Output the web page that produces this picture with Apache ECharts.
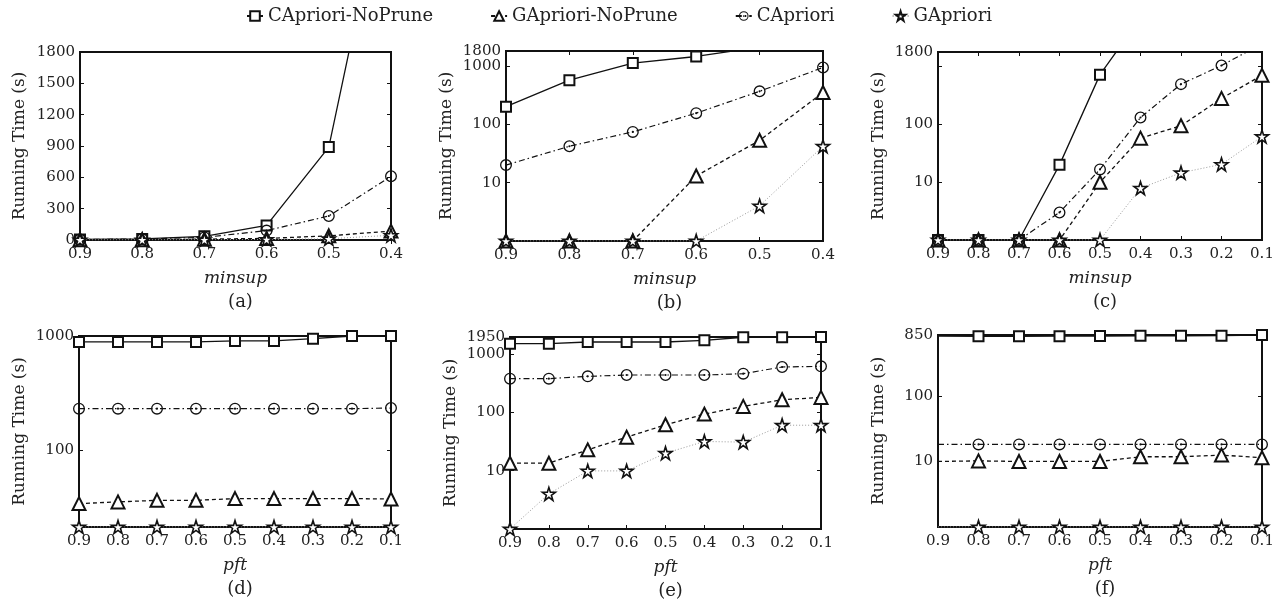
<!DOCTYPE html>
<html>
<head>
<meta charset="utf-8">
<script src="https://cdn.jsdelivr.net/npm/echarts@6/dist/echarts.min.js"></script>
<style>html,body{margin:0;padding:0;background:#fff}#c{width:1283px;height:608px}</style>
</head>
<body>
<div id="c"></div>
<script>
// ---- data ----
const seriesNames = ['CApriori-NoPrune', 'GApriori-NoPrune', 'CApriori', 'GApriori'];
const xMinsupShort = ['0.9', '0.8', '0.7', '0.6', '0.5', '0.4'];
const xMinsupLong = ['0.9', '0.8', '0.7', '0.6', '0.5', '0.4', '0.3', '0.2', '0.1'];
const xPft = ['0.9', '0.8', '0.7', '0.6', '0.5', '0.4', '0.3', '0.2', '0.1'];

const a_CNP = [5, 10, 35, 140, 890, 3700];
const a_GNP = [2, 3, 8, 15, 40, 85];
const a_CA = [5, 10, 25, 90, 230, 610];
const a_GA = [1, 2, 3, 5, 12, 45];

const b_CNP = [200, 570, 1120, 1450, 2100, 2600];
const b_GNP = [1, 1, 1, 13, 53, 350];
const b_CA = [20, 42, 74, 155, 367, 940];
const b_GA = [1, 1, 1, 1, 4, 42];

const c_CNP = [1, 1, 1, 20, 730, 7000, null, null, null];
const c_GNP = [1, 1, 1, 1, 10, 58, 95, 283, 710];
const c_CA = [1, 1, 1, 3, 16.7, 132, 500, 1050, 2500];
const c_GA = [1, 1, 1, 1, 1, 7.9, 14.6, 20.4, 62];

const d_CNP = [887, 887, 887, 887, 905, 905, 948, 1000, 1000];
const d_GNP = [33.7, 34.9, 36, 36, 37.3, 37.3, 37.3, 37.3, 37];
const d_CA = [230, 230, 230, 230, 230, 230, 230, 230, 233];
const d_GA = [21, 21, 21, 21, 21, 21, 21, 21, 21];

const e_CNP = [1500, 1500, 1600, 1600, 1600, 1710, 1930, 1930, 1950];
const e_GNP = [13.4, 13.4, 22.7, 37.5, 61, 93, 126, 164, 180];
const e_CA = [377, 377, 413, 435, 435, 435, 459, 597, 613];
const e_GA = [1, 4, 9.9, 9.9, 19.9, 31.6, 30.8, 60, 60];

const f_CNP = [820, 810, 810, 815, 820, 825, 825, 830, 850];
const f_GNP = [10, 10.2, 10, 10, 10, 11.8, 11.8, 12.5, 11.4];
const f_CA = [18.2, 18.2, 18.2, 18.2, 18.2, 18.2, 18.2, 18.2, 18.2];
const f_GA = [1, 1, 1, 1, 1, 1, 1, 1, 1];

// y tick labels shown
const a_yTicks = [0, 300, 600, 900, 1200, 1500, 1800];
const b_yTicks = [10, 100, 1000, 1800];
const c_yTicks = [10, 100, 1800];
const d_yTicks = [100, 1000];
const e_yTicks = [10, 100, 1000, 1950];
const f_yTicks = [10, 100, 850];

// ---- layout/style ----
const FONT = 'DejaVu Serif';
const panels = [
  {id:'(a)', x: xMinsupShort, xname:'minsup', data:[a_CNP,a_GNP,a_CA,a_GA], yType:'value', min:0, max:1800, ticks:a_yTicks,
   grid:{left:80, top:52, width:311, height:188}},
  {id:'(b)', x: xMinsupShort, xname:'minsup', data:[b_CNP,b_GNP,b_CA,b_GA], yType:'log', min:1, max:1800, ticks:b_yTicks,
   grid:{left:506, top:51, width:317, height:190}},
  {id:'(c)', x: xMinsupLong, xname:'minsup', data:[c_CNP,c_GNP,c_CA,c_GA], yType:'log', min:1, max:1800, ticks:c_yTicks,
   grid:{left:938, top:52, width:324, height:188}},
  {id:'(d)', x: xPft, xname:'pft', data:[d_CNP,d_GNP,d_CA,d_GA], yType:'log', min:21, max:1000, ticks:d_yTicks,
   grid:{left:79, top:336, width:312, height:191}},
  {id:'(e)', x: xPft, xname:'pft', data:[e_CNP,e_GNP,e_CA,e_GA], yType:'log', min:1, max:1950, ticks:e_yTicks,
   grid:{left:510, top:337, width:311, height:192}},
  {id:'(f)', x: xPft, xname:'pft', data:[f_CNP,f_GNP,f_CA,f_GA], yType:'log', min:1, max:850, ticks:f_yTicks, hideFirst:true,
   grid:{left:938, top:335, width:324, height:192}}
];

const STAR = 'path://M50,2 L61,36 L97,36 L68,57 L79,92 L50,71 L21,92 L32,57 L3,36 L39,36 Z';
const RING = 'path://M0,-10 A10,10 0 1,1 0,10 A10,10 0 1,1 0,-10 Z M0,-7.8 A7.8,7.8 0 1,0 0,7.8 A7.8,7.8 0 1,0 0,-7.8 Z M0,-1.8 A1.8,1.8 0 1,1 0,1.8 A1.8,1.8 0 1,1 0,-1.8 Z';
const styles = [
  {symbol:'emptyRect', size:10, line:{color:'#111', width:1.3, type:'solid'}, item:{color:'#111', borderWidth:1.4}},
  {symbol:'emptyTriangle', size:13, line:{color:'#111', width:1.3, type:[4,3]}, item:{color:'#111', borderWidth:1.4}},
  {symbol:RING, size:12, line:{color:'#111', width:1.2, type:[6,3,1.5,3]}, item:{color:'#111', borderWidth:0}},
  {symbol:STAR, size:13, line:{color:'#999', width:1, type:[1,2]}, item:{color:'#fff', borderColor:'#111', borderWidth:1.6}}
];

const grids = [], xAxes = [], yAxes = [], series = [], titles = [];
panels.forEach((p, i) => {
  grids.push(Object.assign({show:true, borderColor:'#111', borderWidth:2, backgroundColor:'#fff'}, p.grid));
  const cx = p.grid.left + p.grid.width / 2;
  titles.push({text:p.id, left:cx, top:p.grid.top + p.grid.height + 48, textAlign:'center',
    textStyle:{fontFamily:FONT, fontSize:18, fontWeight:'normal', color:'#222'}});
  xAxes.push({gridIndex:i, type:'category', data:p.x, boundaryGap:false,
    axisLine:{show:false}, axisTick:{show:true, inside:true, length:4, lineStyle:{color:'#111'}},
    axisLabel:{fontFamily:FONT, fontSize:15, color:'#222', margin:7, interval:0},
    name:p.xname, nameLocation:'middle', nameGap:30,
    nameTextStyle:{fontFamily:FONT, fontStyle:'italic', fontSize:17, color:'#222'}});
  xAxes.push({gridIndex:i, type:'category', data:p.x, boundaryGap:false, position:'top',
    axisLine:{show:false}, axisTick:{show:true, inside:true, length:4, lineStyle:{color:'#111'}},
    axisLabel:{show:false}});
  const ticks = p.ticks;
  const yBase = {gridIndex:i, type:p.yType, min:p.min, max:p.max, splitLine:{show:false},
    axisLine:{show:false}, axisTick:{show:true, inside:true, length:4, lineStyle:{color:'#111'}}};
  if (p.yType === 'value') yBase.interval = 300;
  yAxes.push(Object.assign({}, yBase, {
    axisLabel:{fontFamily:FONT, fontSize:15, color:'#222', margin:5, showMaxLabel:true, showMinLabel:true,
      formatter:(v) => { for (const t of ticks) { if (Math.abs(v - t) / Math.max(t,1) < 0.01) return String(t); } return ''; }},
    name:'Running Time (s)', nameLocation:'middle', nameGap: p.yType === 'value' ? 52 : 51,
    nameTextStyle:{fontFamily:FONT, fontSize:17, color:'#222'}}));
  yAxes.push(Object.assign({}, yBase, {position:'right', axisLabel:{show:false}}));
  p.data.forEach((arr, k) => {
    const st = styles[k];
    const d = arr.map((v, j) => (p.hideFirst && j === 0) ? {value:v, symbol:'none'} : v);
    series.push({name:seriesNames[k], type:'line', xAxisIndex:i*2, yAxisIndex:i*2, data:d,
      symbol:st.symbol, symbolSize:st.size, showAllSymbol:true, clip:true,
      lineStyle:st.line, itemStyle:st.item, z: 2 + k, animation:false});
  });
});

const chart = echarts.init(document.getElementById('c'), null, {renderer:'canvas'});
chart.setOption({
  animation:false,
  backgroundColor:'#fff',
  title: titles,
  legend:{data:seriesNames, top:2, left:241, itemGap:57, itemWidth:16, itemHeight:12,
    textStyle:{fontFamily:FONT, fontSize:18, color:'#222'}},
  grid: grids, xAxis: xAxes, yAxis: yAxes, series: series
});
</script>
</body>
</html>
